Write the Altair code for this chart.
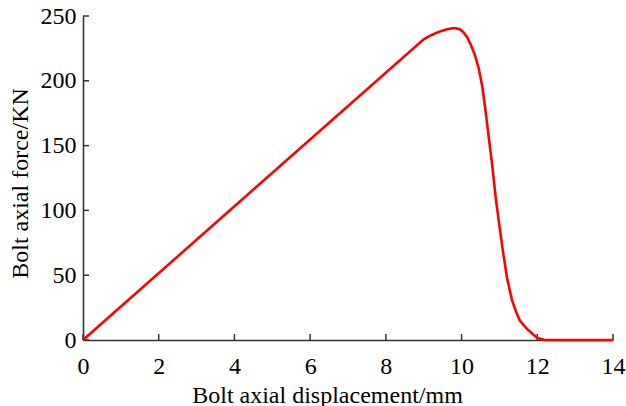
import altair as alt
import pandas as pd

# Load-displacement curve of the bolt
displacement = [0.0, 9.0, 9.15, 9.3, 9.45, 9.6, 9.75, 9.85, 9.95, 10.05, 10.15, 10.25,
                10.35, 10.45, 10.55, 10.62, 10.72, 10.8, 10.91, 11.0, 11.1, 11.2, 11.33,
                11.45, 11.54, 11.65, 11.75, 11.9, 12.0, 12.2, 14.0]
force = [0.0, 232.0, 234.5, 236.5, 238.3, 239.6, 240.5, 240.6, 239.8, 237.5, 233.5, 227.5,
         220.0, 210.0, 195.0, 180.0, 156.0, 137.0, 108.0, 88.0, 67.0, 48.0, 31.0,
         21.0, 15.0, 11.0, 8.0, 4.0, 1.5, 0.0, 0.0]

x_ticks = [0, 2, 4, 6, 8, 10, 12, 14]
y_ticks = [0, 50, 100, 150, 200, 250]

curve = pd.DataFrame({"d": displacement, "f": force})
xt = pd.DataFrame({"v": x_ticks})
yt = pd.DataFrame({"v": y_ticks})

FONT = "Times New Roman, Liberation Serif, serif"
AX = "#333333"

x_scale = alt.Scale(domain=[0, 14], nice=False, zero=False)
y_scale = alt.Scale(domain=[0, 250], nice=False, zero=False)

line = alt.Chart(curve).mark_line(color="#ff0000", strokeWidth=2.6).encode(
    x=alt.X("d:Q", scale=x_scale, title="Bolt axial displacement/mm",
            axis=alt.Axis(values=x_ticks, format="d", tickSize=0, labelPadding=14,
                          labelFlush=False, labelOverlap=False,
                          titlePadding=5, titleX=244, titleAlign="center",
                          domainColor=AX, domainWidth=1.6, grid=False)),
    y=alt.Y("f:Q", scale=y_scale, title="Bolt axial force/KN",
            axis=alt.Axis(values=y_ticks, format="d", tickSize=0, labelPadding=7,
                          labelFlush=False, labelOverlap=False,
                          titlePadding=8, titleY=167,
                          domainColor=AX, domainWidth=1.6, grid=False)),
)

# inward-pointing tick marks
x_tick_marks = alt.Chart(xt).mark_rule(color=AX, strokeWidth=1.5).encode(
    x=alt.X("v:Q", scale=x_scale),
    y=alt.value(324), y2=alt.value(318),
)
y_tick_marks = alt.Chart(yt).mark_rule(color=AX, strokeWidth=1.5).encode(
    y=alt.Y("v:Q", scale=y_scale),
    x=alt.value(0), x2=alt.value(6),
)

chart = alt.layer(x_tick_marks, y_tick_marks, line).properties(
    width=530, height=324,
    autosize=alt.AutoSizeParams(type="none"),
    padding={"left": 83, "top": 16, "right": 13, "bottom": 66},
).configure_view(stroke=None).configure_axis(
    labelFont=FONT, titleFont=FONT, labelFontSize=24, titleFontSize=24,
    labelColor="black", titleColor="black", titleFontWeight="normal",
)

chart.save("out.html", embed_options={"renderer": "svg", "actions": False})
